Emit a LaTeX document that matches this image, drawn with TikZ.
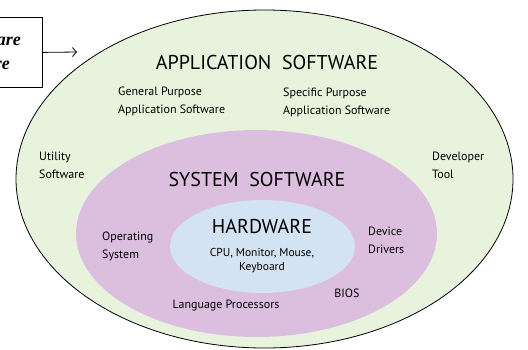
\documentclass[tikz,border=0pt]{standalone}
\usepackage{fontspec}
\setsansfont{PT Sans}
\newfontfamily\boxfont{Liberation Serif}
\usetikzlibrary{shapes.geometric, arrows.meta}
\definecolor{appgreen}{HTML}{E8F3DE}
\definecolor{syspink}{HTML}{DCBFDF}
\definecolor{hwblue}{HTML}{D4E3F3}
\begin{document}
\begin{tikzpicture}[x=1pt, y=-1pt, every node/.style={inner sep=0pt},
    layer/.style={ellipse, minimum width=#1},
    heading/.style={font=\sffamily\fontsize{#1}{#1}\selectfont},
    txt/.style={font=\sffamily\fontsize{12}{18}\selectfont, align=left},
    boxtxt/.style={anchor=base east, font=\boxfont\bfseries\itshape\fontsize{18}{18}\selectfont}]
    \useasboundingbox (0,0) rectangle (528,349);
    % the three layers
    \node[layer=497pt, minimum height=338pt, draw, line width=0.8pt, fill=appgreen] (app) at (264.5,179) {};
    \node[layer=361pt, minimum height=207pt, fill=syspink] (sys) at (256.5,233.5) {};
    \node[layer=185pt, minimum height=93pt, fill=hwblue] (hw) at (262.5,246.5) {};
    % box on the left
    \node[draw, line width=0.8pt, minimum width=100pt, minimum height=70pt, anchor=north east] (box) at (43,17) {};
    \node[boxtxt] (boxa) at (21,45) {are};
    \node[boxtxt] (boxb) at (10,69) {re};
    \coordinate (tip) at (77,52);
    \draw[-{Straight Barb[length=4pt, width=9pt]}, line width=0.8pt] (box.east) -- (tip);
    % titles
    \node[heading=20] (apptitle) at (267,62) {APPLICATION\ \ SOFTWARE};
    \node[heading=20] (systitle) at (257,179) {SYSTEM\ \ SOFTWARE};
    \node[heading=20] (hwtitle) at (262,226) {HARDWARE};
    % items
    \node[txt, align=center, font=\sffamily\fontsize{11.5}{14}\selectfont] (hwitems) at (262,261) {CPU, Monitor, Mouse,\\Keyboard};
    \node[txt, anchor=west] (general) at (118,101) {General Purpose\\Application Software};
    \node[txt, anchor=west] (specific) at (283,102.5) {Specific Purpose\\Application Software};
    \node[txt, anchor=west] (utility) at (39,165.5) {Utility\\Software};
    \node[txt, anchor=west] (developer) at (432,165.5) {Developer\\Tool};
    \node[txt, anchor=west] (opsys) at (102,246.5) {Operating\\System};
    \node[txt, anchor=west] (drivers) at (368,240) {Device\\Drivers};
    \node[txt] (bios) at (347,293) {BIOS};
    \node[txt] (langproc) at (226,306) {Language Processors};
\end{tikzpicture}
\end{document}
